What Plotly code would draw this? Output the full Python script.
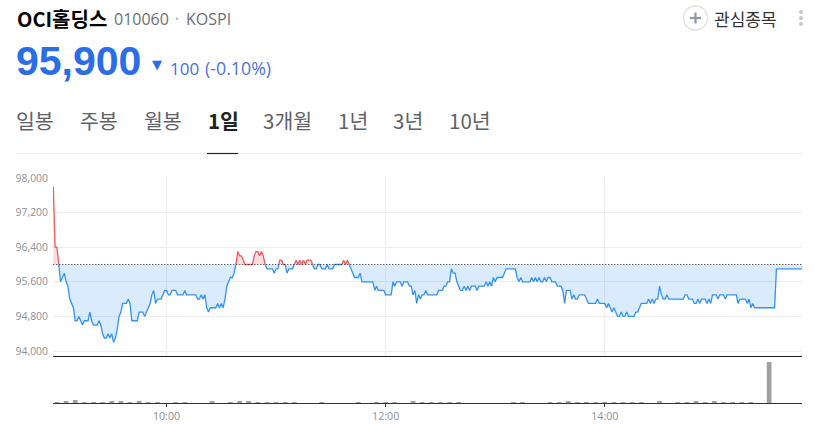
import pandas as pd
import plotly.graph_objects as go

W, H = 815, 431
DAY = "2024-01-02 "

# one price per minute from 08:58
prices = [
    97800, 96400, 96400, 96000, 95600, 95700, 95800, 95600, 95500, 95200,
    95100, 95000, 94700, 94700, 94800, 94700, 94600, 94700, 94700, 94700,
    94900, 94700, 94600, 94600, 94600, 94700, 94600, 94400, 94300, 94300,
    94400, 94300, 94400, 94200, 94300, 94500, 94800, 94900, 95100, 95100,
    95100, 95200, 95100, 94700, 94700, 94700, 94700, 94900, 94900, 94900,
    94800, 94900, 95000, 95100, 95300, 95400, 95100, 95200, 95200, 95200,
    95300, 95400, 95400, 95300, 95300, 95400, 95400, 95400, 95300, 95300,
    95300, 95300, 95400, 95300, 95300, 95300, 95300, 95300, 95300, 95200,
    95200, 95300, 95200, 95300, 95000, 94900, 95000, 95000, 95000, 95000,
    95100, 95000, 95100, 95000, 95200, 95500, 95600, 95700, 95700, 95800,
    96000, 96300, 96200, 96200, 96100, 96000, 96000, 96000, 96000, 96000,
    96200, 96300, 96300, 96200, 96300, 96200, 96000, 95900, 95900, 95900,
    95900, 95800, 95900, 95900, 96100, 96100, 96000, 96000, 95800, 95900,
    95900, 95900, 96000, 96100, 96000, 96100, 96000, 96100, 96000, 96100,
    96100, 96100, 96000, 95900, 95900, 96000, 96000, 95900, 95900, 95900,
    96000, 95900, 95900, 95900, 96000, 96000, 96000, 96000, 96000, 96100,
    96000, 96100, 96000, 95900, 95800, 95700, 95700, 95700, 95800, 95600,
    95600, 95600, 95600, 95600, 95600, 95600, 95400, 95500, 95400, 95400,
    95400, 95400, 95300, 95300, 95300, 95300, 95600, 95500, 95600, 95600,
    95600, 95500, 95600, 95600, 95600, 95500, 95500, 95300, 95400, 95100,
    95300, 95200, 95300, 95300, 95400, 95300, 95300, 95300, 95300, 95300,
    95300, 95400, 95400, 95400, 95500, 95500, 95600, 95600, 95900, 95800,
    95800, 95600, 95500, 95400, 95400, 95500, 95400, 95500, 95400, 95500,
    95500, 95500, 95400, 95500, 95500, 95500, 95500, 95600, 95500, 95600,
    95500, 95700, 95600, 95700, 95700, 95700, 95700, 95800, 95900, 95900,
    95900, 95900, 95900, 95900, 95700, 95600, 95700, 95600, 95600, 95600,
    95600, 95600, 95700, 95600, 95700, 95600, 95700, 95600, 95600, 95700,
    95600, 95700, 95700, 95600, 95600, 95600, 95500, 95500, 95500, 95400,
    95100, 95400, 95400, 95400, 95200, 95300, 95200, 95200, 95300, 95300,
    95300, 95300, 95200, 95100, 95100, 95100, 95100, 95100, 95200, 95100,
    95100, 95100, 95100, 95000, 95100, 95000, 94900, 95000, 94900, 94800,
    94800, 94900, 94800, 94800, 94900, 94800, 94800, 94800, 94800, 94900,
    94900, 95000, 95100, 95100, 95100, 95100, 95200, 95100, 95200, 95100,
    95200, 95200, 95500, 95300, 95200, 95200, 95300, 95200, 95200, 95200,
    95200, 95200, 95200, 95200, 95200, 95200, 95300, 95300, 95200, 95200,
    95200, 95100, 95100, 95200, 95100, 95200, 95200, 95200, 95100, 95200,
    95100, 95300, 95300, 95300, 95200, 95300, 95300, 95300, 95200, 95300,
    95300, 95300, 95300, 95300, 95300, 95100, 95200, 95200, 95200, 95200,
    95100, 95200, 95000, 95100, 95000, 95000, 95000, 95000, 95000, 95000,
    95000, 95000, 95000, 95000, 95000, 95000, 95900, 95900, 95900, 95900,
    95900, 95900, 95900, 95900, 95900, 95900, 95900, 95900, 95900, 95900,
    95900,
]
prev_close = 96000

volume_times = [
    "09:00", "09:05", "09:10", "09:15", "09:20", "09:25", "09:30", "09:35", "09:40", "09:45",
    "09:50", "09:55", "10:05", "10:10", "10:25", "10:35", "10:40", "10:45", "10:50", "10:55",
    "11:00", "11:05", "11:10", "11:25", "11:45", "11:55", "12:00", "12:05", "12:15", "12:20",
    "12:25", "12:30", "12:35", "12:40", "13:10", "13:15", "13:30", "13:35", "13:40", "13:45",
    "13:50", "13:55", "14:00", "14:05", "14:10", "14:15", "14:20", "14:30", "14:40", "14:45",
    "14:50", "14:55", "15:00", "15:05", "15:10", "15:15", "15:20", "15:30",
]
volumes = [
    100, 200, 300, 100, 100, 100, 200, 150, 100, 150,
    100, 100, 100, 100, 200, 100, 150, 200, 100, 100,
    100, 100, 100, 100, 100, 100, 100, 100, 200, 100,
    100, 100, 100, 100, 100, 100, 100, 100, 200, 100,
    100, 100, 100, 100, 100, 100, 100, 200, 100, 100,
    200, 100, 200, 100, 100, 100, 100, 4100,
]

y_ticks = [94000, 94800, 95600, 96400, 97200, 98000]
x_ticks = ["10:00", "12:00", "14:00"]
tabs = ["일봉", "주봉", "월봉", "1일", "3개월", "1년", "3년", "10년"]
tab_left = [16, 80, 144, 208, 263, 338, 393, 449]

times = pd.date_range(DAY + "08:58", periods=len(prices), freq="min")


def px(x):
    return x / W


def py(y):
    return 1 - y / H


# split the line where it crosses the previous close, red above and blue below
def split_segments(ts, vals, base):
    segs = []
    cur = None
    side = None
    for i in range(1, len(vals)):
        a, b = vals[i - 1], vals[i]
        ta, tb = ts[i - 1], ts[i]
        if (a - base) * (b - base) < 0:
            tc = ta + (tb - ta) * ((base - a) / (b - a))
            pieces = [(ta, a, tc, base), (tc, base, tb, b)]
        else:
            pieces = [(ta, a, tb, b)]
        for t0, v0, t1, v1 in pieces:
            s = side
            if v0 > base or v1 > base:
                s = "up"
            elif v0 < base or v1 < base:
                s = "down"
            if s != side or cur is None:
                if cur is not None:
                    segs.append((side, cur))
                cur = [(t0, v0)]
                side = s
            cur.append((t1, v1))
    segs.append((side, cur))
    return segs


segments = split_segments(list(times), prices, prev_close)
styles = {
    "up": ("#ef5a5f", "rgba(240,90,95,0.2)"),
    "down": ("#3393f3", "rgba(51,147,243,0.19)"),
}

fig = go.Figure()

for side in ["down", "up"]:
    line_x, line_y, area_x, area_y = [], [], [], []
    for s, pts in segments:
        if s != side:
            continue
        xs = [p[0] for p in pts]
        ys = [p[1] for p in pts]
        line_x += xs + [None]
        line_y += ys + [None]
        area_x += [xs[0]] + xs + [xs[-1], None]
        area_y += [prev_close] + ys + [prev_close, None]
    fig.add_trace(go.Scatter(x=area_x, y=area_y, mode="lines", fill="toself",
                             fillcolor=styles[side][1], line=dict(width=0),
                             hoverinfo="skip", xaxis="x", yaxis="y"))
    fig.add_trace(go.Scatter(x=line_x, y=line_y, mode="lines",
                             line=dict(color=styles[side][0], width=1.3),
                             xaxis="x", yaxis="y"))

fig.add_trace(go.Scatter(x=[times[0], times[-1]], y=[prev_close, prev_close], mode="lines",
                         line=dict(color="#222222", width=1.2, dash="1px 2px"),
                         xaxis="x", yaxis="y"))

fig.add_trace(go.Bar(x=[DAY + t for t in volume_times], y=volumes, marker_color="#a0a0a0",
                     marker_line_width=0, width=156000, xaxis="x2", yaxis="y2"))

x_range = [DAY + "08:57:50", DAY + "15:48:00"]
tick_vals = [DAY + t for t in x_ticks]

fig.update_layout(
    template="none",
    width=W,
    height=H,
    margin=dict(l=0, r=0, t=0, b=0, pad=0),
    paper_bgcolor="white",
    plot_bgcolor="white",
    showlegend=False,
    font=dict(family="Noto Sans CJK KR, Noto Sans, sans-serif"),
    xaxis=dict(
        domain=[px(53), px(802)], range=x_range, type="date", anchor="y", automargin=False,
        tickvals=tick_vals, showticklabels=False, ticks="",
        showgrid=True, gridcolor="#eeeeee", gridwidth=1,
        showline=True, linecolor="#222222", linewidth=1.3, zeroline=False,
    ),
    yaxis=dict(
        domain=[py(356), py(178)], range=[93885, 98000], anchor="x", automargin=False,
        tickvals=y_ticks, tickformat=",d", showgrid=True, gridcolor="#eeeeee", gridwidth=1,
        zeroline=False, showline=False, ticks="", ticklabelstandoff=4,
        tickfont=dict(family="Open Sans, sans-serif", size=10.4, color="#8b9098"),
    ),
    xaxis2=dict(
        domain=[px(53), px(802)], range=x_range, type="date", anchor="y2", automargin=False,
        tickvals=tick_vals, tickformat="%H:%M", ticks="outside", ticklen=3, tickwidth=1,
        tickcolor="#333333", showgrid=False, showline=True, linecolor="#333333", linewidth=1.2,
        zeroline=False,
        tickfont=dict(family="Open Sans, sans-serif", size=10.7, color="#8b9098"),
    ),
    yaxis2=dict(
        domain=[py(403), py(356)], range=[0, 4700], anchor="x2", automargin=False,
        showticklabels=False, showgrid=False, zeroline=False, ticks="",
    ),
)


def label(x, y, text, size, color, bold=False, family=None, anchor="left"):
    if bold:
        text = "<b>" + text + "</b>"
    fig.add_annotation(
        xref="paper", yref="paper", x=px(x), y=py(y), text=text, showarrow=False,
        xanchor=anchor, yanchor="middle", borderpad=0, borderwidth=0,
        font=dict(size=size, color=color, family=family or "Noto Sans CJK KR, sans-serif"),
    )


label(17, 19, "OCI홀딩스", 20, "#000000", bold=True)
label(114, 19, "010060", 16, "#6b6f75", family="Open Sans, sans-serif")
label(175, 18, "•", 11, "#b5b8bd", family="Open Sans, sans-serif")
label(186, 19, "KOSPI", 16, "#6b6f75", family="Open Sans, sans-serif")
label(16, 61, "95,900", 41, "#2a6de6", bold=True, family="Liberation Sans, sans-serif")
label(152, 64, "▼", 13, "#2a6de6", family="DejaVu Sans, sans-serif")
label(170, 68, "100", 17, "#3f72e0", family="Open Sans, sans-serif")
label(205, 68, "(-0.10%)", 17.8, "#4f72dc", family="Open Sans, sans-serif")
label(714, 18, "관심종목", 17, "#333333")

for name, left in zip(tabs, tab_left):
    if name == "1일":
        label(left, 120.5, name, 20.5, "#222222", bold=True)
    else:
        label(left, 120.5, name, 20.5, "#5f6368")


def paper_shape(kind, x0, y0, x1, y1, **kw):
    fig.add_shape(type=kind, xref="paper", yref="paper",
                  x0=px(x0), x1=px(x1), y0=py(y0), y1=py(y1), **kw)


paper_shape("line", 15, 153.5, 802, 153.5, line=dict(color="#eeeeee", width=1))
paper_shape("line", 207, 153.5, 238, 153.5, line=dict(color="#222222", width=1.2))
paper_shape("circle", 683.5, 6, 707.5, 30, line=dict(color="#dfe1e6", width=1.3))
paper_shape("line", 690, 18, 701, 18, line=dict(color="#8f98a5", width=2.2))
paper_shape("line", 695.5, 12.5, 695.5, 23.5, line=dict(color="#8f98a5", width=2.2))
for cy in [12, 18, 24]:
    paper_shape("circle", 799, cy - 2, 803, cy + 2, fillcolor="#c4c7cc", line=dict(width=0))

# page margin would push the fixed-size figure out of the window
fig.write_html("out.html", config={"displayModeBar": False},
               post_script="document.body.style.margin='0';document.body.style.overflow='hidden';")
